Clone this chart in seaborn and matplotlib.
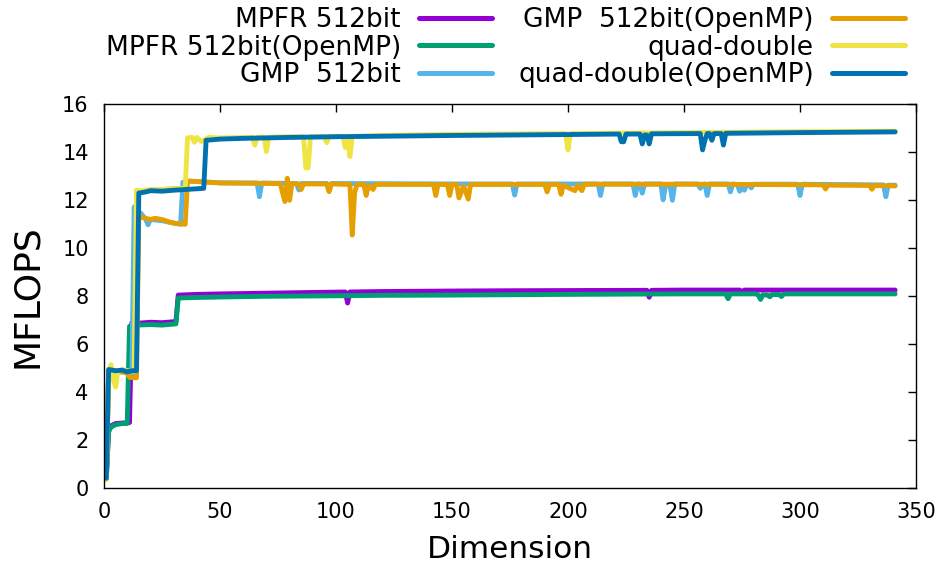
import matplotlib
matplotlib.use("Agg")
import matplotlib.pyplot as plt
import seaborn as sns
import pandas as pd

# ---------------- data ----------------
series_names = ["MPFR 512bit", "MPFR 512bit(OpenMP)", "GMP  512bit",
                "GMP  512bit(OpenMP)", "quad-double", "quad-double(OpenMP)"]
series_colors = ["#9400D3", "#009E73", "#56B4E9", "#E69F00", "#F0E442", "#0072B2"]

mpfr_x = [1, 2, 3, 5, 8, 11, 12, 15, 20, 25, 31, 32, 40, 50, 70, 90, 104, 105, 106, 120,
          150, 170, 200, 234, 235, 236, 250, 274, 275, 276, 300, 341]
mpfr_y = [0.42, 2.45, 2.6, 2.7, 2.72, 2.74, 6.9, 6.88, 6.92, 6.9, 6.95, 8.05, 8.08, 8.1, 8.13,
          8.16, 8.18, 7.72, 8.18, 8.2, 8.22, 8.23, 8.24, 8.25, 7.96, 8.25, 8.26, 8.26, 8.18,
          8.26, 8.26, 8.26]

mpfro_x = [1, 2, 3, 5, 8, 10, 11, 14, 20, 25, 31, 32, 40, 50, 70, 100, 120, 150, 200, 250,
           268, 269, 270, 281, 282, 283, 284, 286, 287, 288, 291, 292, 293, 300, 341]
mpfro_y = [0.42, 2.35, 2.55, 2.65, 2.7, 2.7, 6.75, 6.8, 6.82, 6.8, 6.85, 7.93, 7.95, 7.97,
           8.0, 8.02, 8.04, 8.05, 8.08, 8.1, 8.1, 7.9, 8.1, 8.1, 8.05, 7.87, 8.06, 8.05, 7.98,
           8.07, 8.07, 7.99, 8.1, 8.1, 8.1]

gmp_x = [1, 2, 5, 8, 10, 12, 13, 14, 16, 18, 19, 20, 25, 30, 33, 34, 37, 50, 66, 67,
         68, 83, 84, 85, 96, 97, 98, 150, 176, 177, 178, 213, 214, 215, 228, 229, 230, 231,
         232, 233, 240, 241, 242, 244, 245, 246, 256, 257, 258, 259, 260, 261, 269, 270, 271,
         273, 274, 275, 276, 277, 278, 279, 280, 299, 300, 301, 336, 337, 338, 341]
gmp_y = [0.42, 4.92, 4.85, 4.85, 4.8, 4.72, 11.72, 11.6, 11.45, 11.2, 10.98, 11.2, 11.15,
         11.05, 11.0, 12.75, 12.8, 12.73, 12.72, 12.15, 12.72, 12.7, 12.43, 12.7, 12.7, 12.4,
         12.7, 12.68, 12.68, 12.22, 12.68, 12.68, 12.2, 12.68, 12.68, 12.2, 12.68, 12.68, 12.3,
         12.68, 12.68, 12.02, 12.6, 12.6, 12.0, 12.68, 12.68, 12.5, 12.66, 12.68, 12.2, 12.68,
         12.68, 12.35, 12.68, 12.66, 12.38, 12.62, 12.42, 12.66, 12.66, 12.52, 12.67, 12.67,
         12.2, 12.67, 12.64, 12.15, 12.63, 12.63]

gmpo_x = [1, 2, 5, 8, 10, 11, 14, 15, 16, 18, 20, 22, 25, 28, 30, 35, 36, 40, 50, 75,
          76, 77, 78, 79, 80, 81, 84, 85, 86, 96, 97, 98, 106, 107, 108, 109, 112, 113, 114,
          116, 117, 142, 143, 144, 148, 149, 150, 152, 153, 155, 157, 158, 190, 191, 192, 196,
          197, 198, 203, 204, 206, 207, 250, 300, 310, 311, 312, 330, 331, 332, 341]
gmpo_y = [0.42, 4.9, 4.88, 4.85, 4.8, 4.62, 4.6, 11.4, 11.3, 11.25, 11.2, 11.25, 11.2, 11.1,
          11.05, 11.0, 12.8, 12.78, 12.72, 12.7, 12.7, 12.3, 11.95, 12.92, 12.0, 12.7, 12.68,
          12.45, 12.68, 12.68, 12.36, 12.68, 12.66, 10.55, 12.3, 12.65, 12.66, 12.2, 12.62,
          12.45, 12.66, 12.66, 12.2, 12.66, 12.66, 12.2, 12.66, 12.66, 12.1, 12.6, 12.05,
          12.66, 12.66, 12.35, 12.66, 12.66, 12.25, 12.62, 12.4, 12.62, 12.4, 12.67, 12.67,
          12.65, 12.64, 12.47, 12.63, 12.62, 12.46, 12.61, 12.6]

qd_x = [1, 2, 3, 4, 5, 6, 8, 10, 13, 14, 16, 20, 25, 30, 35, 36, 38, 39, 40, 42,
        45, 50, 60, 64, 65, 66, 69, 70, 71, 80, 86, 87, 88, 89, 95, 96, 97, 103, 104, 105,
        106, 107, 120, 150, 199, 200, 201, 250, 300, 341]
qd_y = [0.35, 4.8, 5.15, 4.5, 4.22, 4.9, 4.95, 4.9, 4.88, 12.42, 12.4, 12.45, 12.45, 12.5,
        12.5, 14.6, 14.62, 14.42, 14.62, 14.45, 14.62, 14.6, 14.62, 14.63, 14.3, 14.63,
        14.63, 14.03, 14.63, 14.65, 14.65, 13.35, 13.35, 14.65, 14.65, 14.4, 14.66, 14.66,
        14.2, 14.65, 13.82, 14.66, 14.7, 14.75, 14.78, 14.1, 14.78, 14.82, 14.86, 14.88]

qdo_x = [1, 2, 5, 8, 10, 12, 14, 15, 18, 20, 25, 30, 35, 40, 43, 44, 50, 60, 80, 100,
         150, 200, 222, 223, 224, 225, 231, 232, 233, 234, 235, 236, 257, 258, 259, 260, 261,
         262, 263, 266, 267, 268, 300, 341]
qdo_y = [0.42, 4.95, 4.9, 4.92, 4.85, 4.9, 4.9, 12.3, 12.35, 12.4, 12.38, 12.42, 12.45,
         12.48, 12.5, 14.5, 14.55, 14.58, 14.62, 14.65, 14.7, 14.74, 14.76, 14.44, 14.44,
         14.76, 14.76, 14.35, 14.72, 14.72, 14.35, 14.77, 14.78, 14.1, 14.5, 14.78, 14.78,
         14.5, 14.78, 14.78, 14.3, 14.79, 14.82, 14.85]

x_ticks = [0, 50, 100, 150, 200, 250, 300, 350]
y_ticks = [0, 2, 4, 6, 8, 10, 12, 14, 16]

# ---------------- build table ----------------
xs_all = [mpfr_x, mpfro_x, gmp_x, gmpo_x, qd_x, qdo_x]
ys_all = [mpfr_y, mpfro_y, gmp_y, gmpo_y, qd_y, qdo_y]
frames = []
for name, xs, ys in zip(series_names, xs_all, ys_all):
    frames.append(pd.DataFrame({"Dimension": xs, "MFLOPS": ys, "series": name}))
df = pd.concat(frames, ignore_index=True)

# ---------------- plot ----------------
sns.set_style("white")
plt.rcParams["font.family"] = ["DejaVu Sans"]
plt.rcParams["text.color"] = "black"
plt.rcParams["axes.labelcolor"] = "black"
plt.rcParams["xtick.color"] = "black"
plt.rcParams["ytick.color"] = "black"

W, H = 946, 569
fig = plt.figure(figsize=(W / 100, H / 100), dpi=100)
ax = fig.add_axes([104 / W, 1 - 488.3 / H, 812 / W, 384 / H])

sns.lineplot(data=df, x="Dimension", y="MFLOPS", hue="series",
             hue_order=series_names, palette=series_colors,
             estimator=None, sort=False, linewidth=3.5, ax=ax, legend=False)

ax.set_xlim(0, 350)
ax.set_ylim(0, 16)
ax.set_xticks(x_ticks)
ax.set_yticks(y_ticks)
ax.tick_params(axis="both", which="both", direction="in", length=6, width=1,
               top=True, right=True, labelsize=15, colors="black")
ax.tick_params(axis="x", pad=10)
ax.tick_params(axis="y", pad=11)
for s in ax.spines.values():
    s.set_visible(True)
    s.set_color("black")
    s.set_linewidth(1.0)

ax.set_xlabel("Dimension", fontsize=22.5, color="black")
ax.set_ylabel("MFLOPS", fontsize=26, color="black")
ax.xaxis.set_label_coords(0.5, (488.3 - 549) / 384)
ax.xaxis.label.set_verticalalignment("center")
ax.yaxis.set_label_coords((27 - 104) / 812, 0.5)
ax.yaxis.label.set_verticalalignment("center")

handles = ax.lines[:6]
leg = ax.legend(handles, series_names, ncol=2, markerfirst=False, frameon=False,
                fontsize=19, loc="upper right",
                bbox_to_anchor=(905 / W, 1 - 7 / H), bbox_transform=fig.transFigure,
                borderpad=0, borderaxespad=0, handlelength=2.75, handletextpad=0.7,
                columnspacing=1.0, labelspacing=0.06)
for t in leg.get_texts():
    t.set_color("black")
for l in leg.get_lines():
    l.set_linewidth(3.6)

fig.savefig("out.png", dpi=100, facecolor="white")
